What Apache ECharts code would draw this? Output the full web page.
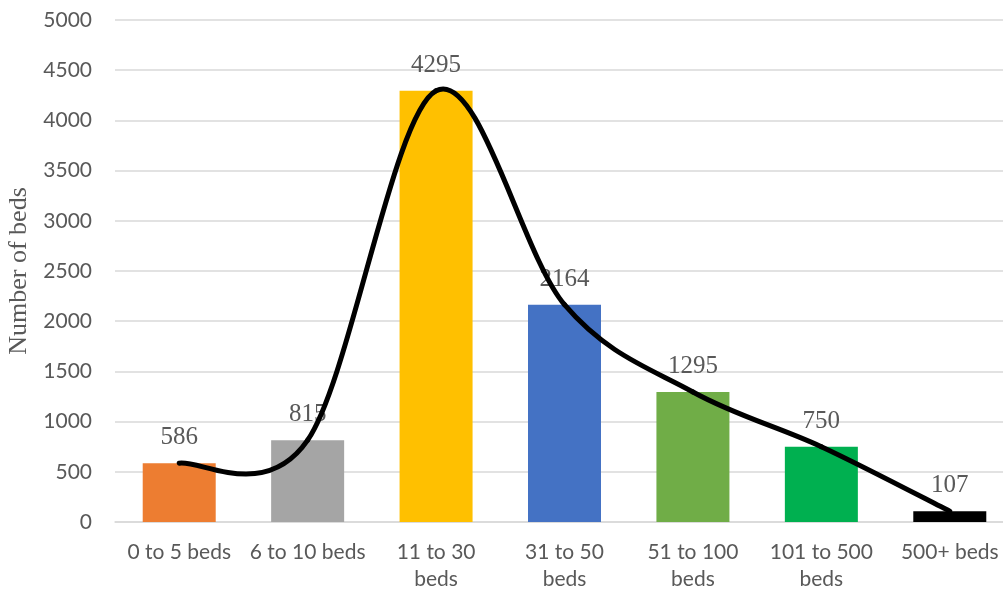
<!DOCTYPE html>
<html>
<head>
<meta charset="utf-8">
<script src="https://cdn.jsdelivr.net/npm/echarts@6/dist/echarts.min.js"></script>
<style>html,body{margin:0;padding:0;background:#fff}#c{width:1003px;height:593px}</style>
</head>
<body>
<div id="c"></div>
<script>
const categories = ['0 to 5 beds', '6 to 10 beds', '11 to 30\nbeds', '31 to 50\nbeds', '51 to 100\nbeds', '101 to 500\nbeds', '500+ beds'];
const values = [586, 815, 4295, 2164, 1295, 750, 107];
const barColors = ['#ED7D31', '#A5A5A5', '#FFC000', '#4472C4', '#70AD47', '#00B050', '#000000'];
const yTicks = { min: 0, max: 5000, interval: 500 };

const sans = 'Lato, "Open Sans", sans-serif';
const serif = '"Liberation Serif", "DejaVu Serif", serif';

// Excel-style smoothed line (Catmull-Rom -> cubic Bezier), positioned via the axes' scales
function renderSmoothSegment(params, api) {
  const i = params.dataIndex;
  if (i >= values.length - 1) return null;
  const pt = k => {
    const j = Math.max(0, Math.min(values.length - 1, k));
    return api.coord([j, values[j]]);
  };
  const p0 = pt(i - 1), p1 = pt(i), p2 = pt(i + 1), p3 = pt(i + 2);
  return {
    type: 'bezierCurve',
    shape: {
      x1: p1[0], y1: p1[1], x2: p2[0], y2: p2[1],
      cpx1: p1[0] + (p2[0] - p0[0]) / 6, cpy1: p1[1] + (p2[1] - p0[1]) / 6,
      cpx2: p2[0] - (p3[0] - p1[0]) / 6, cpy2: p2[1] - (p3[1] - p1[1]) / 6
    },
    style: { stroke: '#000000', lineWidth: 5, fill: null, lineCap: 'round' }
  };
}

const chart = echarts.init(document.getElementById('c'));
chart.setOption({
  animation: false,
  grid: { left: 115, right: -11, top: 20, bottom: 71, outerBoundsMode: 'none', containLabel: false },
  xAxis: {
    type: 'category',
    data: categories,
    axisLine: { lineStyle: { color: '#D9D9D9', width: 1.5 } },
    axisTick: { show: false },
    axisLabel: { color: '#595959', fontSize: 21, fontFamily: sans, margin: 17, lineHeight: 27, interval: 0 }
  },
  yAxis: {
    type: 'value',
    min: yTicks.min, max: yTicks.max, interval: yTicks.interval,
    name: 'Number of beds',
    nameLocation: 'middle',
    nameGap: 80,
    nameTextStyle: { color: '#595959', fontSize: 26, fontFamily: serif },
    axisLine: { show: false },
    axisTick: { show: false },
    axisLabel: { color: '#595959', fontSize: 21, fontFamily: sans, margin: 23, formatter: v => String(v) },
    splitLine: { lineStyle: { color: '#D9D9D9', width: 1.5 } }
  },
  series: [
    {
      type: 'bar',
      data: values.map((v, i) => ({ value: v, itemStyle: { color: barColors[i] } })),
      barWidth: 73,
      label: {
        show: true, position: 'top', distance: 13,
        color: '#595959', fontSize: 25, fontFamily: serif
      }
    },
    {
      type: 'custom',
      data: values.map((v, i) => [i, v]),
      renderItem: renderSmoothSegment,
      encode: { x: 0, y: 1 },
      clip: false,
      z: 5
    }
  ]
});
</script>
</body>
</html>
